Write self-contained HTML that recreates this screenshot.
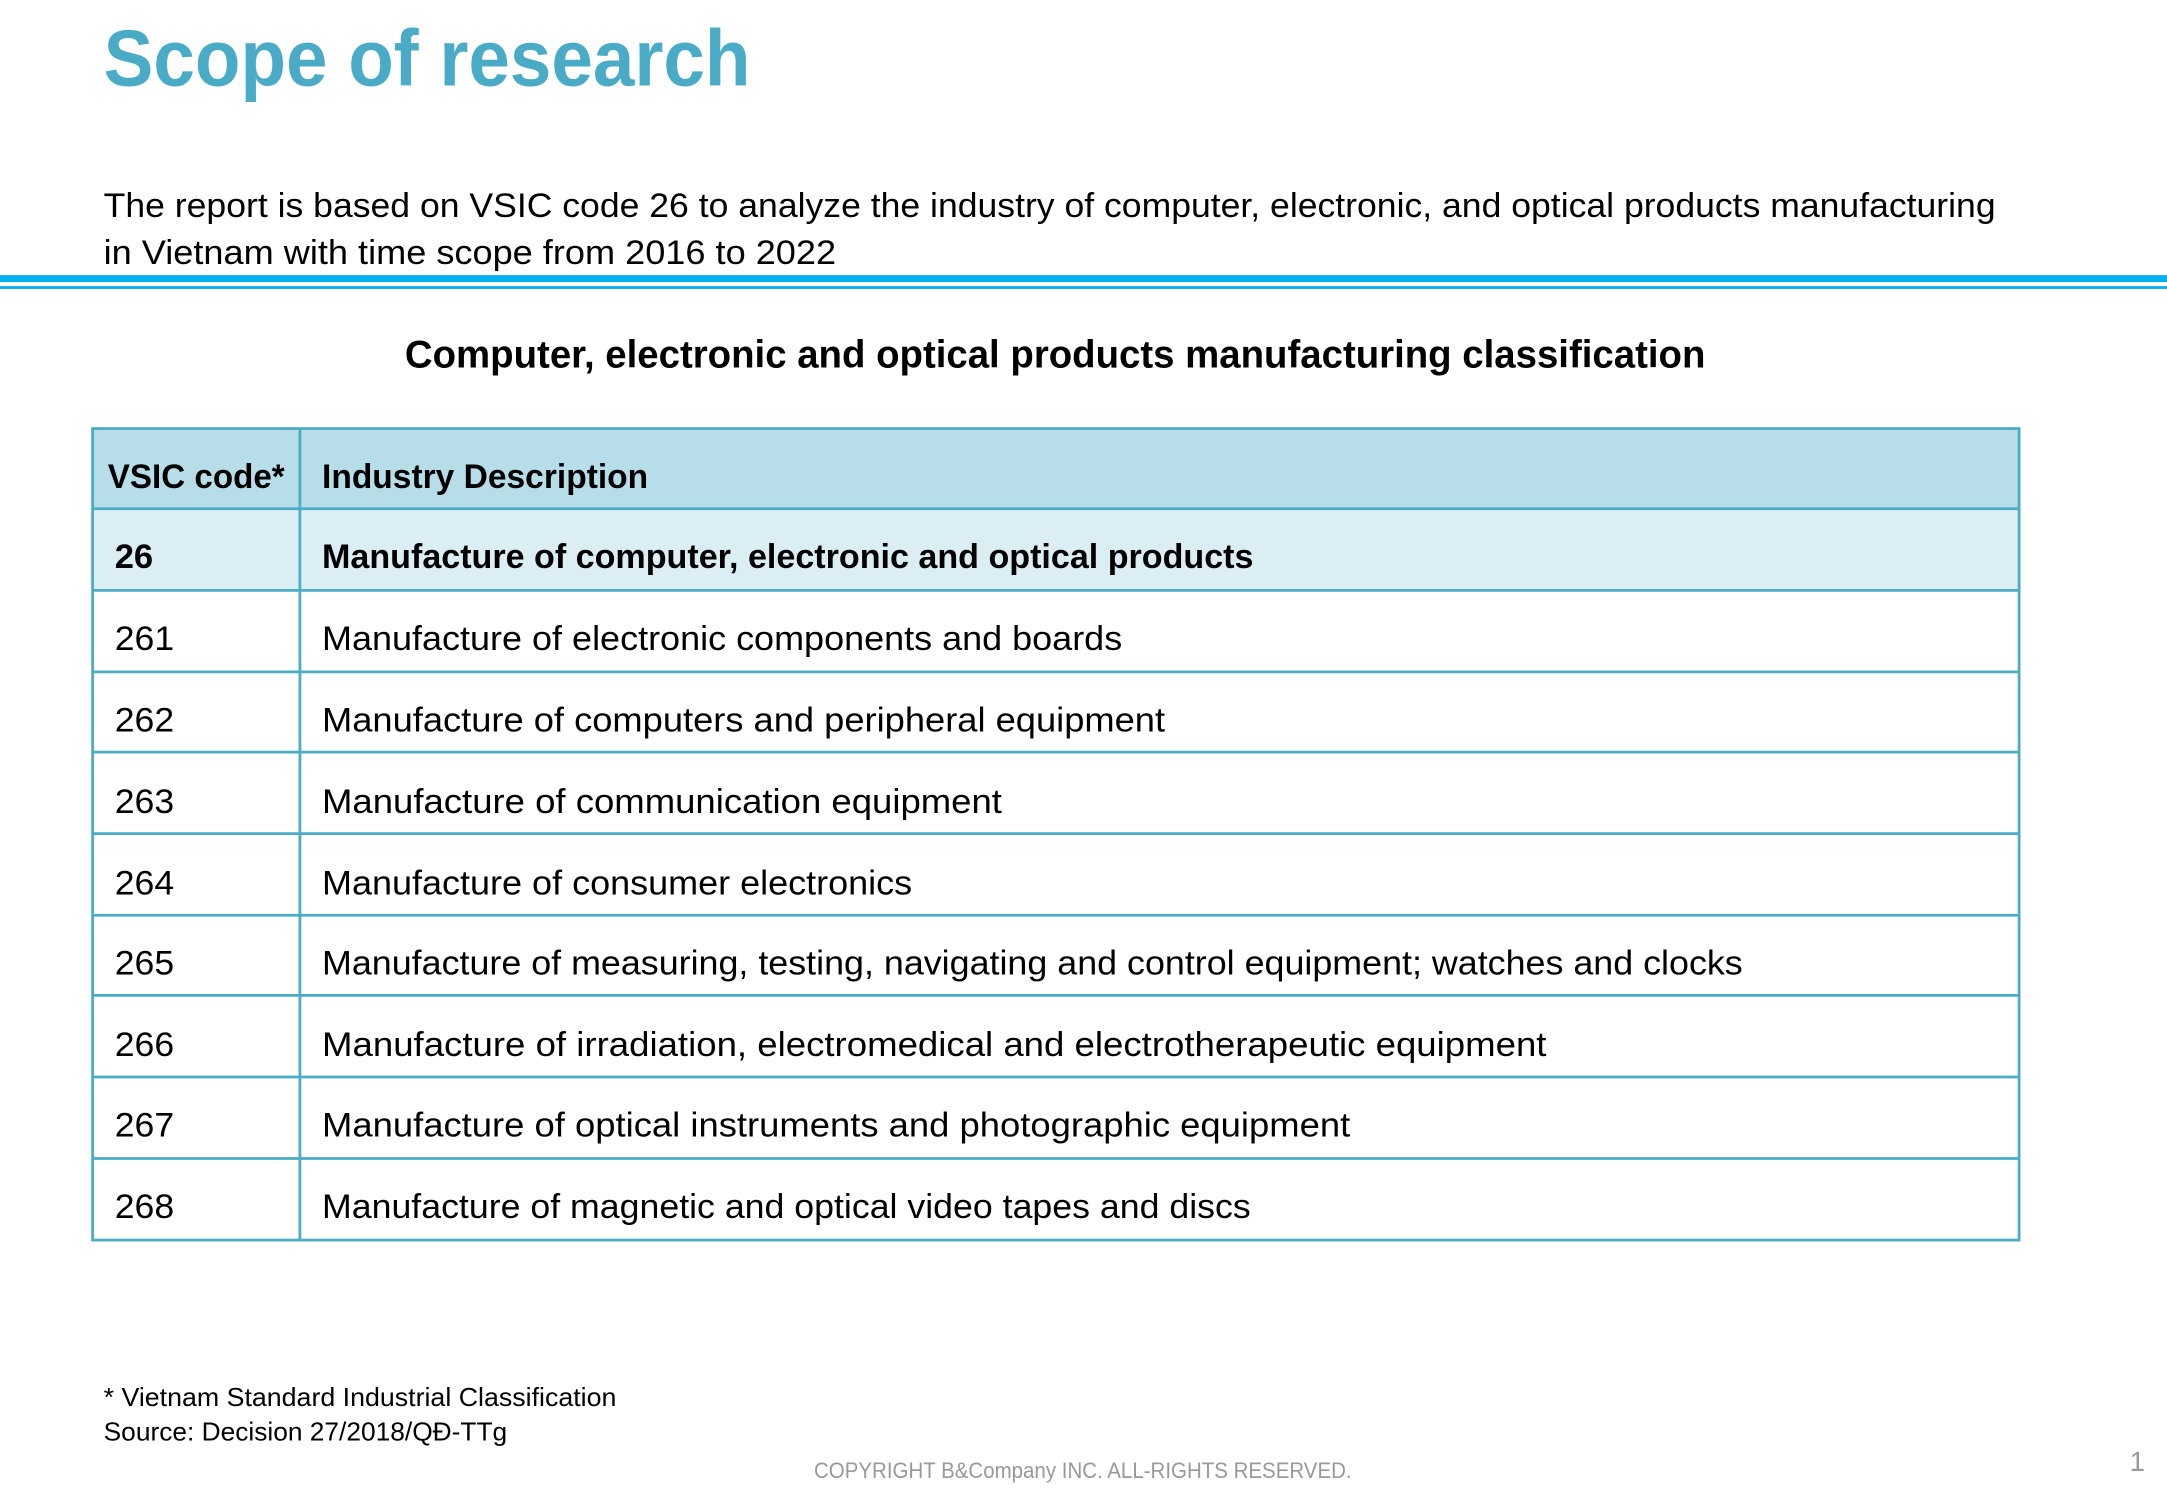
<!DOCTYPE html>
<html><head><meta charset="utf-8"><style>html,body{margin:0;padding:0;background:#fff}svg{display:block}</style></head>
<body>
<svg width="2167" height="1500" viewBox="0 0 1568 1085" preserveAspectRatio="none" xmlns="http://www.w3.org/2000/svg" font-family="Liberation Sans, sans-serif">
<rect width="1568" height="1085" fill="#fff"/>
<text x="75" y="62" font-size="58" font-weight="bold" fill="#4aabc7" textLength="468" lengthAdjust="spacingAndGlyphs">Scope of research</text>
<text x="75" y="157" font-size="25" fill="#000" textLength="1369" lengthAdjust="spacingAndGlyphs">The report is based on VSIC code 26 to analyze the industry of computer, electronic, and optical products manufacturing</text>
<text x="75" y="191" font-size="25" fill="#000" textLength="530" lengthAdjust="spacingAndGlyphs">in Vietnam with time scope from 2016 to 2022</text>
<rect x="0" y="199" width="1568" height="5" fill="#00b0f0"/>
<rect x="0" y="207" width="1568" height="2" fill="#00b0f0"/>
<text x="293" y="266" font-size="28" font-weight="bold" fill="#000" textLength="941" lengthAdjust="spacingAndGlyphs">Computer, electronic and optical products manufacturing classification</text>
<rect x="67" y="310" width="1394" height="58" fill="#b7dde8"/>
<rect x="67" y="368" width="1394" height="59" fill="#dbeef4"/>
<g stroke="#4bacc6" stroke-width="2" fill="none">
<rect x="67" y="310" width="1394" height="587"/>
<line x1="217" y1="310" x2="217" y2="897"/>
<line x1="67" y1="368" x2="1461" y2="368"/>
<line x1="67" y1="427" x2="1461" y2="427"/>
<line x1="67" y1="486" x2="1461" y2="486"/>
<line x1="67" y1="544" x2="1461" y2="544"/>
<line x1="67" y1="603" x2="1461" y2="603"/>
<line x1="67" y1="662" x2="1461" y2="662"/>
<line x1="67" y1="720" x2="1461" y2="720"/>
<line x1="67" y1="779" x2="1461" y2="779"/>
<line x1="67" y1="838" x2="1461" y2="838"/>
</g>
<g font-size="25" fill="#000">
<text x="78" y="353" font-weight="bold" textLength="128" lengthAdjust="spacingAndGlyphs">VSIC code*</text>
<text x="233" y="353" font-weight="bold" textLength="236" lengthAdjust="spacingAndGlyphs">Industry Description</text>
<text x="83" y="411" font-weight="bold">26</text>
<text x="233" y="411" font-weight="bold" textLength="674" lengthAdjust="spacingAndGlyphs">Manufacture of computer, electronic and optical products</text>
<text x="83" y="470" textLength="43" lengthAdjust="spacingAndGlyphs">261</text>
<text x="233" y="470" textLength="579" lengthAdjust="spacingAndGlyphs">Manufacture of electronic components and boards</text>
<text x="83" y="529" textLength="43" lengthAdjust="spacingAndGlyphs">262</text>
<text x="233" y="529" textLength="610" lengthAdjust="spacingAndGlyphs">Manufacture of computers and peripheral equipment</text>
<text x="83" y="588" textLength="43" lengthAdjust="spacingAndGlyphs">263</text>
<text x="233" y="588" textLength="492" lengthAdjust="spacingAndGlyphs">Manufacture of communication equipment</text>
<text x="83" y="647" textLength="43" lengthAdjust="spacingAndGlyphs">264</text>
<text x="233" y="647" textLength="427" lengthAdjust="spacingAndGlyphs">Manufacture of consumer electronics</text>
<text x="83" y="705" textLength="43" lengthAdjust="spacingAndGlyphs">265</text>
<text x="233" y="705" textLength="1028" lengthAdjust="spacingAndGlyphs">Manufacture of measuring, testing, navigating and control equipment; watches and clocks</text>
<text x="83" y="764" textLength="43" lengthAdjust="spacingAndGlyphs">266</text>
<text x="233" y="764" textLength="886" lengthAdjust="spacingAndGlyphs">Manufacture of irradiation, electromedical and electrotherapeutic equipment</text>
<text x="83" y="822" textLength="43" lengthAdjust="spacingAndGlyphs">267</text>
<text x="233" y="822" textLength="744" lengthAdjust="spacingAndGlyphs">Manufacture of optical instruments and photographic equipment</text>
<text x="83" y="881" textLength="43" lengthAdjust="spacingAndGlyphs">268</text>
<text x="233" y="881" textLength="672" lengthAdjust="spacingAndGlyphs">Manufacture of magnetic and optical video tapes and discs</text>
</g>
<text x="75" y="1017" font-size="19" fill="#000" textLength="371" lengthAdjust="spacingAndGlyphs">* Vietnam Standard Industrial Classification</text>
<text x="75" y="1042" font-size="19" fill="#000" textLength="292" lengthAdjust="spacingAndGlyphs">Source: Decision 27/2018/QĐ-TTg</text>
<text x="589" y="1069" font-size="16" fill="#999" textLength="389" lengthAdjust="spacingAndGlyphs">COPYRIGHT B&amp;Company INC. ALL-RIGHTS RESERVED.</text>
<text x="1541" y="1064" font-size="20" fill="#999">1</text>
</svg>
</body></html>
